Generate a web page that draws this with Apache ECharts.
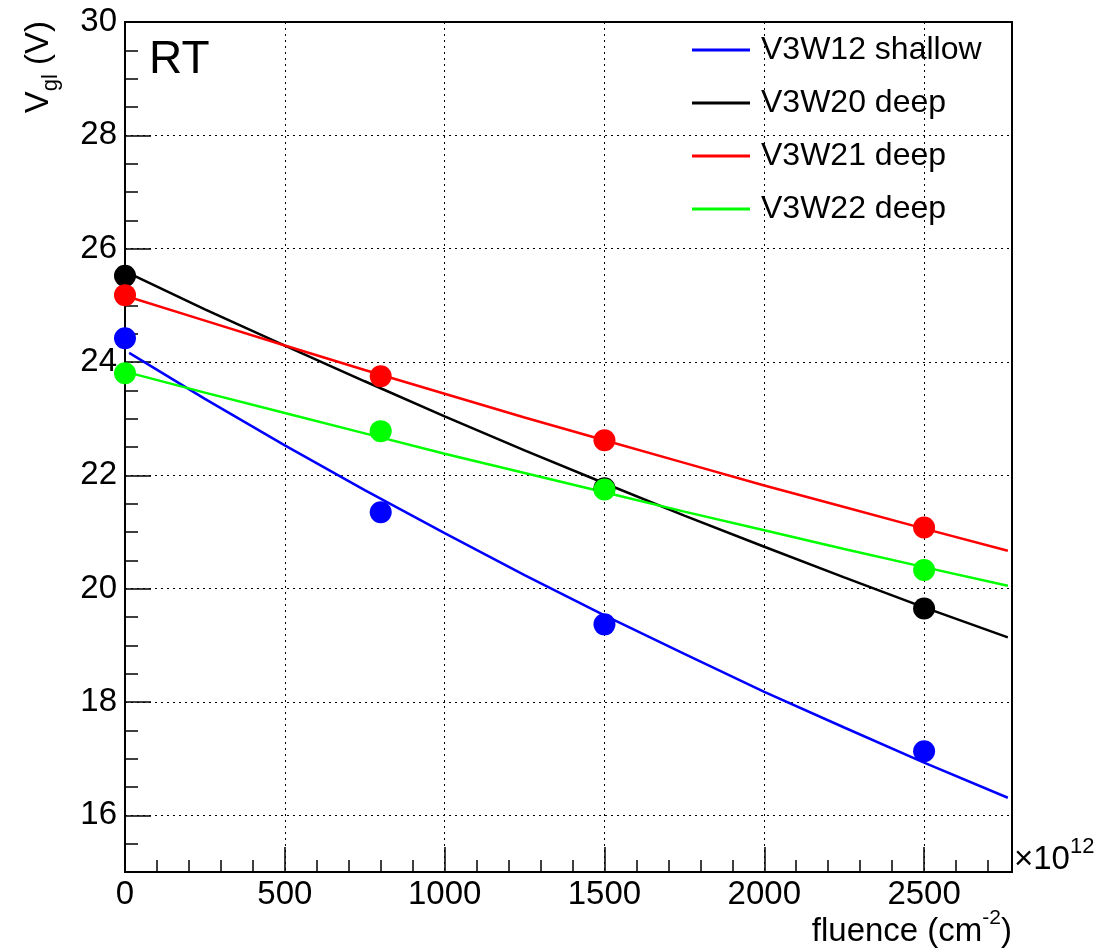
<!DOCTYPE html>
<html>
<head>
<meta charset="utf-8">
<script src="https://cdn.jsdelivr.net/npm/echarts@6/dist/echarts.min.js"></script>
<style>
html,body{margin:0;padding:0;background:#fff;}
#chart{width:1119px;height:951px;}
</style>
</head>
<body>
<div id="chart"></div>
<script>
// ---- data ----
const seriesNames = ['V3W12 shallow', 'V3W20 deep', 'V3W21 deep', 'V3W22 deep'];
const seriesColors = ['#0000ff', '#000000', '#ff0000', '#00ff00'];

// measured points (fluence in 1e12 cm^-2, V_gl in V)
const fluenceV3W12 = [0, 800, 1500, 2500];
const vglV3W12 = [24.42, 21.35, 19.37, 17.13];
const fluenceV3W20 = [0, 1500, 2500];
const vglV3W20 = [25.52, 21.77, 19.65];
const fluenceV3W21 = [0, 800, 1500, 2500];
const vglV3W21 = [25.18, 23.75, 22.62, 21.08];
const fluenceV3W22 = [0, 800, 1500, 2500];
const vglV3W22 = [23.80, 22.78, 21.75, 20.33];

// fit curves at these fluences
const fitXV3W12 = [13, 250, 500, 750, 1000, 1250, 1500, 1750, 2000, 2250, 2500, 2762];
const fitX = [0, 250, 500, 750, 1000, 1250, 1500, 1750, 2000, 2250, 2500, 2762];
const fitV3W12 = [24.16, 23.35, 22.53, 21.74, 20.98, 20.24, 19.53, 18.85, 18.18, 17.55, 16.93, 16.31];
const fitV3W20 = [25.60, 24.93, 24.29, 23.66, 23.04, 22.44, 21.86, 21.29, 20.74, 20.20, 19.67, 19.14];
const fitV3W21 = [25.17, 24.73, 24.29, 23.86, 23.44, 23.02, 22.62, 22.22, 21.82, 21.44, 21.06, 20.67];
const fitV3W22 = [23.83, 23.46, 23.10, 22.74, 22.38, 22.04, 21.70, 21.36, 21.03, 20.70, 20.38, 20.05];

// axes
const xMin = 0, xMax = 2775, xMajor = 500, xMinor = 100;
const yMin = 15, yMax = 30, yMinor = 0.5;

const FONT = '"Liberation Sans", Arial, Helvetica, sans-serif';

const pts = [
  [fluenceV3W12, vglV3W12],
  [fluenceV3W20, vglV3W20],
  [fluenceV3W21, vglV3W21],
  [fluenceV3W22, vglV3W22]
];
const fits = [
  [fitXV3W12, fitV3W12],
  [fitX, fitV3W20],
  [fitX, fitV3W21],
  [fitX, fitV3W22]
];

const series = [];
fits.forEach((f, i) => {
  series.push({
    name: seriesNames[i],
    type: 'line',
    xAxisIndex: 0, yAxisIndex: 0,
    data: f[0].map((x, k) => [x, f[1][k]]),
    symbol: 'none',
    showSymbol: false,
    lineStyle: { color: seriesColors[i], width: 2.5 },
    itemStyle: { color: seriesColors[i] },
    z: 3,
    silent: true
  });
});
pts.forEach((p, i) => {
  series.push({
    name: seriesNames[i] + ' data',
    type: 'scatter',
    xAxisIndex: 0, yAxisIndex: 0,
    data: p[0].map((x, k) => [x, p[1][k]]),
    symbol: 'circle',
    symbolSize: 22,
    itemStyle: { color: seriesColors[i], opacity: 1 },
    z: 4,
    silent: true
  });
});

const splitLineStyle = { show: true, lineStyle: { color: '#000', width: 1, type: [2, 4] } };
const plainNum = v => String(v);

const option = {
  animation: false,
  backgroundColor: '#fff',
  grid: { left: 125, right: 107, top: 22, bottom: 79, show: true, borderColor: '#000', borderWidth: 2, backgroundColor: 'transparent' },
  legend: {
    data: seriesNames,
    orient: 'vertical',
    left: 692,
    top: 30,
    padding: 0,
    icon: 'rect',
    itemWidth: 58,
    itemHeight: 3,
    itemGap: 13,
    textStyle: { fontFamily: FONT, fontSize: 32, color: '#000', lineHeight: 40, padding: [0, 0, 0, 6] },
    selectedMode: false
  },
  xAxis: [
    {
      type: 'value', min: xMin, max: xMax, interval: xMajor, position: 'bottom',
      axisLine: { show: true, onZero: false, lineStyle: { color: '#000', width: 2 } },
      axisTick: { show: true, inside: true, length: 25, lineStyle: { color: '#000', width: 1.5 } },
      axisLabel: { show: true, showMaxLabel: false, margin: 6, fontFamily: FONT, fontSize: 33, color: '#000', formatter: plainNum },
      splitLine: splitLineStyle
    },
    {
      type: 'value', min: xMin, max: xMax, interval: xMinor, position: 'bottom',
      axisLine: { show: false },
      axisTick: { show: true, inside: true, length: 12, lineStyle: { color: '#000', width: 1.5 } },
      axisLabel: { show: false },
      splitLine: { show: false }
    }
  ],
  yAxis: [
    {
      type: 'value', min: yMin, max: yMax, splitNumber: 7, position: 'left',
      axisLine: { show: true, onZero: false, lineStyle: { color: '#000', width: 2 } },
      axisTick: { show: true, inside: true, length: 26, lineStyle: { color: '#000', width: 1.5 } },
      axisLabel: { show: true, showMinLabel: false, margin: 8, fontFamily: FONT, fontSize: 33, color: '#000', formatter: plainNum },
      splitLine: splitLineStyle
    },
    {
      type: 'value', min: yMin, max: yMax, interval: yMinor, position: 'left',
      axisLine: { show: false },
      axisTick: { show: true, inside: true, length: 13, lineStyle: { color: '#000', width: 1.5 } },
      axisLabel: { show: false },
      splitLine: { show: false }
    }
  ],
  graphic: [
    {
      type: 'text', left: 149, top: 37, z: 10,
      style: { text: 'RT', fontFamily: FONT, fontSize: 46, fill: '#000' }
    },
    {
      type: 'text', x: 22, y: 21, rotation: Math.PI / 2, z: 10,
      style: {
        text: '{b|V}{s|gl}{b| (V)}', align: 'right', verticalAlign: 'top',
        rich: {
          b: { fontFamily: FONT, fontSize: 33, lineHeight: 40, verticalAlign: 'top', fill: '#000' },
          s: { fontFamily: FONT, fontSize: 22, lineHeight: 22, verticalAlign: 'bottom', fill: '#000' }
        }
      }
    },
    {
      type: 'text', x: 1012, y: 948, z: 10,
      style: {
        text: '{b|fluence (cm}{s|-2}{b|)}', align: 'right', verticalAlign: 'bottom',
        rich: {
          b: { fontFamily: FONT, fontSize: 33, lineHeight: 40, verticalAlign: 'bottom', fill: '#000' },
          s: { fontFamily: FONT, fontSize: 21, lineHeight: 21, verticalAlign: 'top', fill: '#000' }
        }
      }
    },
    {
      type: 'text', x: 1014, y: 836, z: 10,
      style: {
        text: '{b|\u00d710}{s|12}', align: 'left', verticalAlign: 'top',
        rich: {
          b: { fontFamily: FONT, fontSize: 33, lineHeight: 40, verticalAlign: 'bottom', fill: '#000' },
          s: { fontFamily: FONT, fontSize: 22, lineHeight: 22, verticalAlign: 'top', fill: '#000' }
        }
      }
    }
  ],
  series: series
};

const chart = echarts.init(document.getElementById('chart'), null, { renderer: 'canvas' });
chart.setOption(option);
</script>
</body>
</html>
